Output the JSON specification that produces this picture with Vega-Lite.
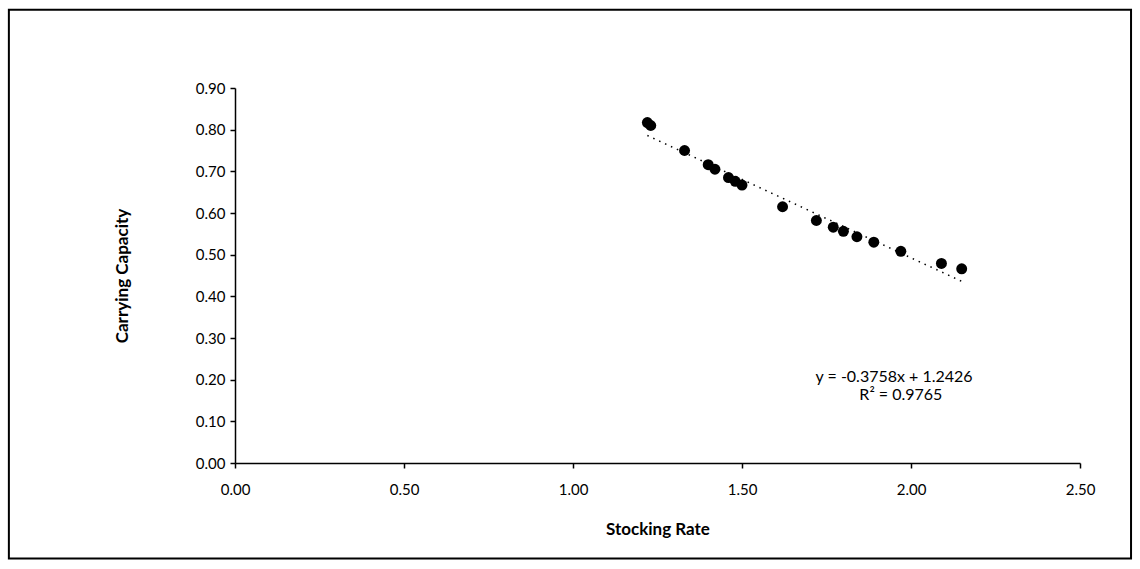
{
  "$schema": "https://vega.github.io/schema/vega-lite/v6.json",
  "autosize": {"type": "none"},
  "width": 845,
  "height": 375,
  "padding": {"left": 235, "top": 88, "right": 60, "bottom": 106},
  "background": "white",
  "config": {
    "view": {"stroke": null},
    "font": "Lato",
    "axis": {
      "domainColor": "black",
      "domainWidth": 1.5,
      "tickColor": "black",
      "tickWidth": 1.5,
      "tickSize": 5,
      "grid": false,
      "labelFlush": false,
      "labelColor": "black",
      "labelFontSize": 15,
      "labelFont": "Lato",
      "titleColor": "black",
      "titleFont": "Lato",
      "titleFontSize": 17,
      "titleFontWeight": "bold"
    }
  },
  "layer": [
    {
      "data": {"values": [{}]},
      "mark": {"type": "rect", "fill": null, "stroke": "black", "strokeWidth": 2, "clip": false},
      "encoding": {
        "x": {"datum": -0.669, "type": "quantitative", "scale": {"domain": [0, 2.5]}},
        "x2": {"datum": 2.651},
        "y": {"datum": 1.088, "type": "quantitative", "scale": {"domain": [0, 0.9]}},
        "y2": {"datum": -0.229}
      }
    },
    {
      "data": {
        "values": [
          {"rate": 1.22, "capacity": 0.817},
          {"rate": 1.23, "capacity": 0.810},
          {"rate": 1.33, "capacity": 0.750},
          {"rate": 1.40, "capacity": 0.716},
          {"rate": 1.42, "capacity": 0.705},
          {"rate": 1.46, "capacity": 0.685},
          {"rate": 1.48, "capacity": 0.676},
          {"rate": 1.50, "capacity": 0.667},
          {"rate": 1.62, "capacity": 0.615},
          {"rate": 1.72, "capacity": 0.582},
          {"rate": 1.77, "capacity": 0.566},
          {"rate": 1.80, "capacity": 0.556},
          {"rate": 1.84, "capacity": 0.543},
          {"rate": 1.89, "capacity": 0.530},
          {"rate": 1.97, "capacity": 0.508},
          {"rate": 2.09, "capacity": 0.479},
          {"rate": 2.15, "capacity": 0.466}
        ]
      },
      "layer": [
        {
          "mark": {"type": "circle", "size": 120, "color": "black", "opacity": 1},
          "encoding": {
            "x": {
              "field": "rate", "type": "quantitative",
              "scale": {"domain": [0, 2.5], "nice": false, "zero": true},
              "axis": {"values": [0, 0.5, 1, 1.5, 2, 2.5], "format": ".2f", "title": "Stocking Rate", "labelPadding": 14, "titlePadding": 24}
            },
            "y": {
              "field": "capacity", "type": "quantitative",
              "scale": {"domain": [0, 0.9], "nice": false},
              "axis": {"values": [0, 0.1, 0.2, 0.3, 0.4, 0.5, 0.6, 0.7, 0.8, 0.9], "format": ".2f", "title": "Carrying Capacity", "labelPadding": 5, "titlePadding": 64}
            }
          }
        },
        {
          "transform": [{"regression": "capacity", "on": "rate"}],
          "mark": {"type": "line", "color": "black", "strokeWidth": 1.5, "strokeDash": [1.5, 5]},
          "encoding": {
            "x": {"field": "rate", "type": "quantitative"},
            "y": {"field": "capacity", "type": "quantitative"}
          }
        }
      ]
    },
    {
      "data": {"values": [{}]},
      "mark": {"type": "text", "text": "y = -0.3758x + 1.2426", "fontSize": 16, "fontWeight": "normal", "font": "Lato", "color": "black", "align": "center", "baseline": "middle"},
      "encoding": {
        "x": {"datum": 1.95, "type": "quantitative"},
        "y": {"datum": 0.207, "type": "quantitative"}
      }
    },
    {
      "data": {"values": [{}]},
      "mark": {"type": "text", "text": "R² = 0.9765", "fontSize": 16, "fontWeight": "normal", "font": "Lato", "color": "black", "align": "center", "baseline": "middle"},
      "encoding": {
        "x": {"datum": 1.97, "type": "quantitative"},
        "y": {"datum": 0.163, "type": "quantitative"}
      }
    }
  ]
}
